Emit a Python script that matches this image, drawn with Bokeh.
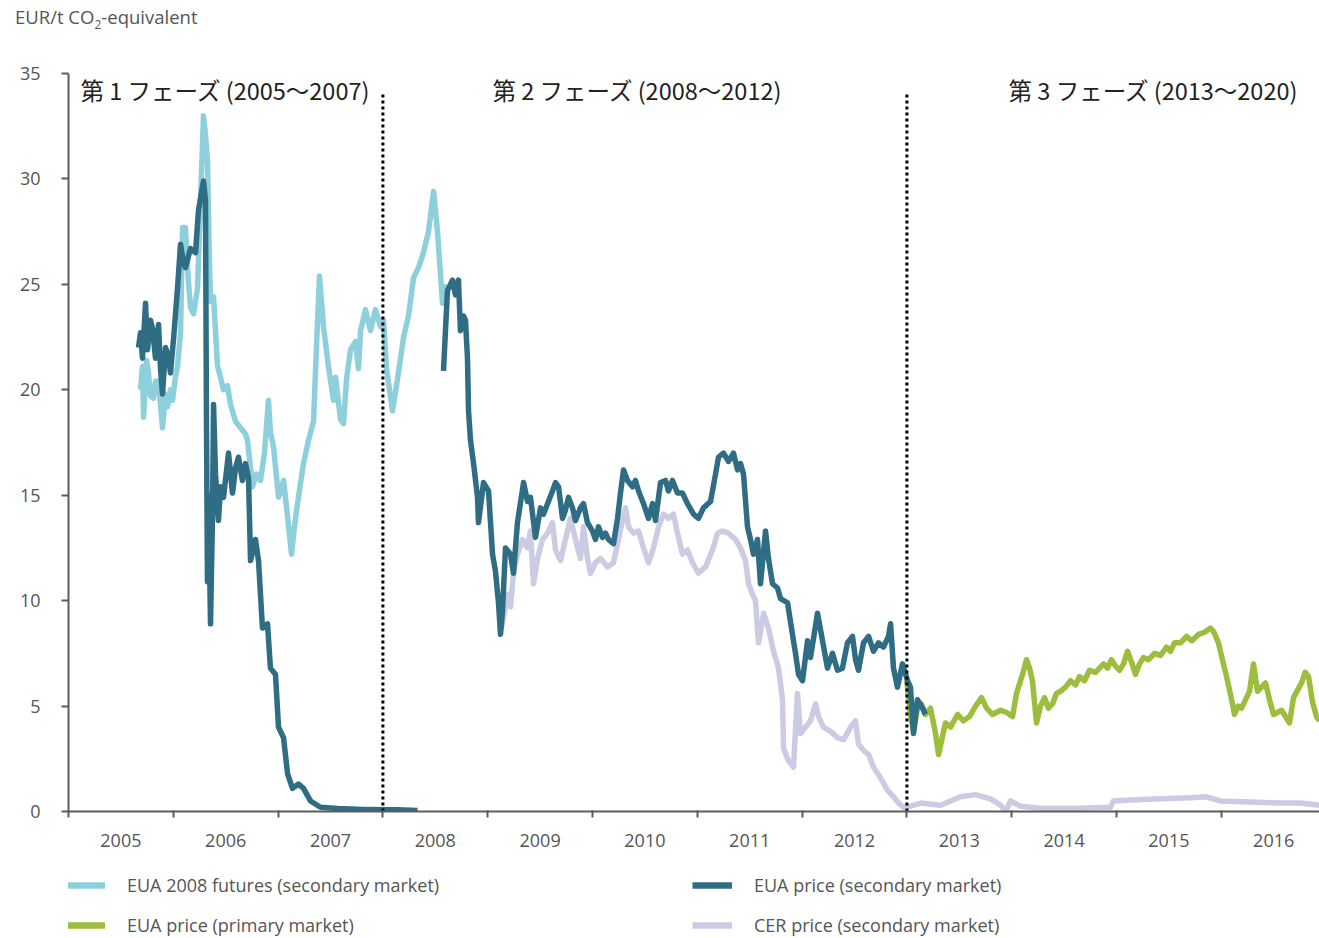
import numpy as np
from bokeh.plotting import figure
from bokeh.layouts import column
from bokeh.models import FixedTicker, Legend, LegendItem, Range1d, Div
from bokeh.core.properties import value
from bokeh.embed import file_html
from bokeh.resources import INLINE

# ---------------------------------------------------------------
# Carbon prices, EUR per tonne CO2-equivalent (decimal years)
# ---------------------------------------------------------------

# EUA 2008 futures (secondary market)
fut_years = [2005.687, 2005.706, 2005.716, 2005.744, 2005.763, 2005.782, 2005.811, 2005.830,
             2005.859, 2005.897, 2005.926, 2005.945, 2005.973, 2005.992, 2006.021, 2006.040,
             2006.069, 2006.088, 2006.116, 2006.135, 2006.164, 2006.193, 2006.231, 2006.260,
             2006.288, 2006.307, 2006.326, 2006.345, 2006.355, 2006.384, 2006.422, 2006.450,
             2006.479, 2006.517, 2006.546, 2006.594, 2006.641, 2006.689, 2006.708, 2006.756,
             2006.794, 2006.832, 2006.870, 2006.908, 2006.927, 2006.956, 2007.004, 2007.052,
             2007.090, 2007.128, 2007.156, 2007.185, 2007.242, 2007.290, 2007.338, 2007.366,
             2007.395, 2007.433, 2007.481, 2007.529, 2007.548, 2007.595, 2007.624, 2007.653,
             2007.691, 2007.739, 2007.767, 2007.786, 2007.834, 2007.882, 2007.929, 2007.977,
             2008.006, 2008.034, 2008.092, 2008.139, 2008.197, 2008.244, 2008.292, 2008.340,
             2008.387, 2008.435, 2008.483, 2008.521, 2008.569, 2008.607]
fut_vals = [20.0, 21.1, 18.7, 21.4, 20.8, 19.7, 19.6, 20.4,
            20.4, 18.2, 19.8, 19.2, 20.0, 19.5, 20.6, 21.1,
            22.7, 27.7, 27.7, 25.8, 23.9, 23.6, 24.8, 29.0,
            33.0, 32.1, 30.9, 26.0, 24.2, 24.4, 21.1, 20.6,
            20.0, 20.2, 19.3, 18.5, 18.2, 17.9, 17.6, 15.4,
            16.0, 15.7, 17.0, 19.5, 18.0, 17.3, 14.9, 15.7,
            14.0, 12.2, 13.5, 14.6, 16.5, 17.6, 18.5, 22.0,
            25.4, 23.0, 21.1, 19.5, 20.6, 18.6, 18.4, 20.5,
            21.9, 22.3, 21.0, 22.8, 23.8, 22.8, 23.8, 23.0,
            23.3, 21.0, 19.0, 20.5, 22.5, 23.5, 25.3, 25.8,
            26.5, 27.5, 29.4, 27.5, 24.1, 25.0]

# EUA price (secondary market), phase 1 spot
sec1_years = [2005.668, 2005.687, 2005.706, 2005.735, 2005.754, 2005.782, 2005.802, 2005.830,
              2005.859, 2005.878, 2005.897, 2005.926, 2005.954, 2005.973, 2006.002, 2006.040,
              2006.069, 2006.097, 2006.116, 2006.164, 2006.212, 2006.240, 2006.288, 2006.307,
              2006.317, 2006.326, 2006.336, 2006.355, 2006.374, 2006.384, 2006.403, 2006.431,
              2006.450, 2006.479, 2006.527, 2006.565, 2006.594, 2006.622, 2006.660, 2006.689,
              2006.718, 2006.737, 2006.784, 2006.813, 2006.851, 2006.899, 2006.927, 2006.975,
              2007.004, 2007.052, 2007.090, 2007.137, 2007.195, 2007.242, 2007.309, 2007.405,
              2007.567, 2007.815, 2008.139, 2008.330]
sec1_vals = [22.0, 22.7, 21.5, 24.1, 21.9, 23.3, 22.9, 21.5,
             23.1, 21.0, 19.8, 22.0, 21.6, 20.8, 22.4, 24.8,
             26.9, 26.0, 25.8, 26.7, 26.5, 28.5, 29.9, 29.0,
             18.0, 10.9, 15.0, 8.9, 14.0, 19.3, 16.0, 13.8,
             15.4, 14.9, 17.0, 15.1, 16.3, 16.8, 15.7, 16.5,
             15.8, 11.9, 12.9, 11.9, 8.7, 8.9, 6.8, 6.5,
             4.0, 3.5, 1.8, 1.1, 1.3, 1.1, 0.5, 0.2,
             0.14, 0.1, 0.08, 0.05]

# EUA price (secondary market), phases 2 and 3
sec2_years = [2008.578, 2008.616, 2008.664, 2008.693, 2008.721, 2008.740, 2008.769, 2008.788,
              2008.807, 2008.817, 2008.836, 2008.865, 2008.903, 2008.912, 2008.960, 2009.008,
              2009.046, 2009.074, 2009.103, 2009.122, 2009.141, 2009.170, 2009.218, 2009.246,
              2009.284, 2009.342, 2009.380, 2009.408, 2009.456, 2009.504, 2009.532, 2009.571,
              2009.618, 2009.647, 2009.676, 2009.714, 2009.742, 2009.771, 2009.809, 2009.838,
              2009.885, 2009.914, 2009.952, 2010.000, 2010.029, 2010.057, 2010.095, 2010.124,
              2010.153, 2010.200, 2010.239, 2010.267, 2010.296, 2010.334, 2010.382, 2010.410,
              2010.439, 2010.487, 2010.534, 2010.573, 2010.601, 2010.649, 2010.697, 2010.725,
              2010.763, 2010.811, 2010.859, 2010.906, 2010.964, 2011.011, 2011.059, 2011.126,
              2011.174, 2011.202, 2011.250, 2011.298, 2011.345, 2011.384, 2011.412, 2011.441,
              2011.479, 2011.508, 2011.536, 2011.574, 2011.603, 2011.651, 2011.679, 2011.718,
              2011.765, 2011.794, 2011.861, 2011.908, 2011.937, 2011.966, 2012.004, 2012.052,
              2012.080, 2012.147, 2012.195, 2012.242, 2012.290, 2012.338, 2012.385, 2012.433,
              2012.481, 2012.510, 2012.538, 2012.586, 2012.634, 2012.681, 2012.729, 2012.777,
              2012.824, 2012.844, 2012.872, 2012.910, 2012.958, 2013.006, 2013.034, 2013.063,
              2013.101, 2013.149, 2013.177]
sec2_vals = [20.9, 24.7, 25.2, 24.5, 25.2, 22.8, 23.5, 23.3,
             21.5, 19.0, 17.6, 16.5, 14.9, 13.7, 15.6, 15.2,
             12.2, 11.4, 9.9, 8.4, 9.5, 12.5, 12.2, 11.3,
             13.7, 15.6, 14.7, 14.9, 13.0, 14.4, 14.1, 14.6,
             15.2, 15.6, 15.4, 13.9, 14.3, 14.9, 14.4, 13.8,
             14.4, 14.6, 13.7, 13.3, 12.9, 13.5, 13.0, 13.2,
             12.9, 12.7, 13.9, 15.1, 16.2, 15.7, 15.4, 15.7,
             15.2, 14.6, 13.9, 14.6, 13.8, 15.6, 15.7, 15.2,
             15.7, 15.1, 15.1, 14.6, 14.1, 13.9, 14.4, 14.7,
             16.0, 16.8, 17.0, 16.6, 17.0, 16.2, 16.5, 16.0,
             13.5, 12.9, 12.2, 12.9, 10.8, 13.3, 12.0, 10.8,
             10.6, 10.1, 9.9, 8.4, 7.5, 6.5, 6.2, 8.1,
             7.3, 9.4, 8.1, 6.8, 7.5, 6.7, 6.8, 8.0,
             8.3, 7.2, 6.7, 8.0, 8.3, 7.6, 8.0, 7.8,
             8.3, 8.9, 6.8, 5.9, 7.0, 6.2, 5.9, 3.7,
             5.3, 4.9, 4.6]

# CER price (secondary market)
cer_years = [2009.122, 2009.141, 2009.189, 2009.218, 2009.246, 2009.284, 2009.332, 2009.380,
             2009.408, 2009.437, 2009.475, 2009.523, 2009.571, 2009.618, 2009.647, 2009.695,
             2009.742, 2009.790, 2009.838, 2009.885, 2009.914, 2009.952, 2009.981, 2010.029,
             2010.076, 2010.143, 2010.200, 2010.248, 2010.286, 2010.315, 2010.344, 2010.391,
             2010.439, 2010.487, 2010.534, 2010.582, 2010.630, 2010.677, 2010.725, 2010.773,
             2010.811, 2010.859, 2010.906, 2010.954, 2011.011, 2011.078, 2011.145, 2011.193,
             2011.240, 2011.298, 2011.365, 2011.412, 2011.460, 2011.489, 2011.527, 2011.555,
             2011.584, 2011.632, 2011.679, 2011.727, 2011.775, 2011.813, 2011.823, 2011.870,
             2011.918, 2011.956, 2011.985, 2012.033, 2012.080, 2012.128, 2012.157, 2012.204,
             2012.271, 2012.338, 2012.395, 2012.462, 2012.510, 2012.538, 2012.586, 2012.634,
             2012.681, 2012.748, 2012.815, 2012.872, 2012.920, 2012.967, 2012.996, 2013.130,
             2013.321, 2013.416, 2013.511, 2013.655, 2013.798, 2013.893, 2013.941, 2013.989,
             2014.084, 2014.275, 2014.466, 2014.656, 2014.943, 2014.971, 2015.134, 2015.420,
             2015.706, 2015.849, 2015.992, 2016.279, 2016.565, 2016.756, 2016.937]
cer_vals = [8.6, 8.9, 10.3, 9.7, 11.3, 12.2, 12.9, 12.5,
            13.3, 10.8, 12.0, 12.9, 13.2, 13.7, 12.4, 11.9,
            12.9, 13.9, 12.9, 12.0, 13.5, 12.0, 11.3, 11.8,
            12.0, 11.6, 11.8, 12.9, 13.8, 14.4, 13.5, 13.2,
            13.3, 12.5, 11.8, 12.5, 13.5, 14.1, 13.9, 14.1,
            13.2, 12.2, 12.4, 11.8, 11.3, 11.6, 12.4, 13.2,
            13.3, 13.2, 12.9, 12.5, 11.9, 10.8, 10.3, 10.0,
            8.0, 9.4, 8.7, 7.6, 6.8, 5.3, 3.0, 2.4,
            2.1, 5.6, 3.7, 4.0, 4.3, 5.1, 4.5, 4.0,
            3.8, 3.5, 3.4, 4.0, 4.3, 3.2, 2.9, 2.7,
            2.1, 1.6, 1.0, 0.7, 0.4, 0.2, 0.2, 0.4,
            0.3, 0.5, 0.7, 0.8, 0.6, 0.3, 0.0, 0.5,
            0.25, 0.15, 0.15, 0.15, 0.2, 0.5, 0.55, 0.6,
            0.65, 0.7, 0.5, 0.45, 0.4, 0.4, 0.3]

# EUA price (primary market, auctions)
prim_years = [2012.996, 2013.006, 2013.034, 2013.063, 2013.101, 2013.139, 2013.177, 2013.225,
              2013.273, 2013.302, 2013.368, 2013.416, 2013.483, 2013.540, 2013.597, 2013.655,
              2013.712, 2013.760, 2013.817, 2013.893, 2013.950, 2014.008, 2014.046, 2014.103,
              2014.141, 2014.170, 2014.198, 2014.237, 2014.275, 2014.313, 2014.351, 2014.389,
              2014.427, 2014.466, 2014.513, 2014.561, 2014.609, 2014.647, 2014.695, 2014.742,
              2014.800, 2014.876, 2014.914, 2014.952, 2014.990, 2015.029, 2015.067, 2015.105,
              2015.143, 2015.181, 2015.219, 2015.258, 2015.305, 2015.363, 2015.420, 2015.477,
              2015.515, 2015.554, 2015.611, 2015.668, 2015.720, 2015.782, 2015.840, 2015.897,
              2015.930, 2015.973, 2016.010, 2016.050, 2016.090, 2016.126, 2016.160, 2016.193,
              2016.269, 2016.307, 2016.345, 2016.422, 2016.460, 2016.498, 2016.575, 2016.651,
              2016.689, 2016.765, 2016.800, 2016.832, 2016.870, 2016.908, 2016.937]
prim_vals = [6.2, 5.9, 4.6, 3.8, 4.9, 5.1, 4.6, 4.9,
             3.7, 2.7, 4.2, 4.0, 4.6, 4.3, 4.5, 5.0,
             5.4, 4.9, 4.6, 4.8, 4.7, 4.5, 5.6, 6.5,
             7.2, 6.8, 6.2, 4.2, 5.0, 5.4, 4.9, 5.1,
             5.6, 5.7, 5.9, 6.2, 6.0, 6.4, 6.2, 6.7,
             6.6, 7.0, 6.8, 7.2, 6.9, 6.7, 7.0, 7.6,
             7.1, 6.5, 7.0, 7.3, 7.2, 7.5, 7.4, 7.8,
             7.6, 8.0, 8.0, 8.3, 8.1, 8.4, 8.5, 8.7,
             8.5, 8.0, 7.2, 6.4, 5.5, 4.6, 5.0, 4.9,
             5.7, 7.0, 5.7, 6.1, 5.3, 4.6, 4.8, 4.2,
             5.4, 6.1, 6.6, 6.4, 5.2, 4.5, 4.3]

# Axis ticks and trading-phase annotations
year_labels = list(range(2005, 2017))
y_ticks = [0, 5, 10, 15, 20, 25, 30, 35]
phase_starts = [2008, 2013]
phase_labels = ["第 1 フェーズ (2005～2007)", "第 2 フェーズ (2008～2012)", "第 3 フェーズ (2013～2020)"]
phase_label_x = [2005.115, 2009.046, 2013.97]
phase_label_y = 34.2

C_FUT = "#8dd0dc"
C_SEC = "#2f6d84"
C_PRIM = "#9cbd3e"
C_CER = "#cbcbe3"
AXIS_GREY = "#5c5c5c"
TEXT_GREY = "#555555"
FONT = "Open Sans"
LW = 5.5
KEY_LW = 6.5

# ---------------------------------------------------------------
# Unit caption above the chart
# ---------------------------------------------------------------
caption = Div(text="EUR/t CO<sub style='font-size:12px'>2</sub>-equivalent",
              width=400, height=30, margin=(6, 0, 0, 15),
              styles={"font-family": FONT, "font-size": "18.5px", "color": TEXT_GREY,
                      "line-height": "22px"})

# ---------------------------------------------------------------
# Main chart
# ---------------------------------------------------------------
p = figure(width=1319, height=822, output_backend="svg", toolbar_location=None,
           x_range=Range1d(2005.0, 2016.937), y_range=Range1d(0, 35),
           min_border_left=68, min_border_right=0, min_border_top=37, min_border_bottom=47)
p.outline_line_color = None
p.xgrid.visible = False
p.ygrid.visible = False
p.background_fill_color = "white"
p.border_fill_color = "white"

r_fut = p.line(fut_years, fut_vals, line_color=C_FUT, line_width=LW, line_join="round")
r_cer = p.line(cer_years, cer_vals, line_color=C_CER, line_width=LW, line_join="round")
r_prim = p.line(prim_years, prim_vals, line_color=C_PRIM, line_width=LW, line_join="round")
sec_x = sec1_years + [np.nan] + sec2_years
sec_y = sec1_vals + [np.nan] + sec2_vals
r_sec = p.line(sec_x, sec_y, line_color=C_SEC, line_width=LW, line_join="round")

# Phase boundaries
p.segment(x0=phase_starts, y0=[0] * len(phase_starts), x1=phase_starts,
          y1=[phase_label_y - 0.2] * len(phase_starts),
          line_color="black", line_width=3, line_dash="3 3")

p.text(x=phase_label_x, y=[phase_label_y] * 3, text=phase_labels,
       text_font=value("Noto Sans CJK JP"), text_font_size="23.5px",
       text_color="#222222", text_baseline="middle", text_align="left")

# Axes: year labels centred in each year, tick marks on year boundaries
xa = p.xaxis[0]
xa.ticker = FixedTicker(ticks=[y + 0.5 for y in year_labels], minor_ticks=year_labels)
xa.major_label_overrides = {y + 0.5: str(y) for y in year_labels}
xa.major_tick_line_color = None
xa.major_tick_out = 0
xa.major_tick_in = 0
xa.minor_tick_out = 6
xa.minor_tick_in = 1
xa.minor_tick_line_color = AXIS_GREY
xa.minor_tick_line_width = 2
xa.axis_line_color = AXIS_GREY
xa.axis_line_width = 2
xa.major_label_standoff = 16
xa.major_label_text_font = FONT
xa.major_label_text_font_size = "18px"
xa.major_label_text_color = TEXT_GREY

ya = p.yaxis[0]
ya.ticker = FixedTicker(ticks=y_ticks)
ya.minor_tick_line_color = None
ya.major_tick_out = 7
ya.major_tick_in = 0
ya.major_tick_line_color = AXIS_GREY
ya.major_tick_line_width = 2
ya.axis_line_color = AXIS_GREY
ya.axis_line_width = 2
ya.major_label_standoff = 21
ya.major_label_text_font = FONT
ya.major_label_text_font_size = "18px"
ya.major_label_text_color = TEXT_GREY

# ---------------------------------------------------------------
# Legend strip below the chart
# ---------------------------------------------------------------
leg = figure(width=1319, height=80, output_backend="svg", toolbar_location=None,
             x_range=Range1d(0, 1), y_range=Range1d(0, 1),
             x_axis_type=None, y_axis_type=None,
             min_border_left=68, min_border_right=0, min_border_top=0, min_border_bottom=0)
leg.outline_line_color = None
leg.xgrid.visible = False
leg.ygrid.visible = False
leg.background_fill_color = "white"
leg.border_fill_color = "white"

# Legend keys (no visible data, only their line styles are used)
key_fut = leg.line([np.nan], [np.nan], line_color=C_FUT, line_width=KEY_LW)
key_prim = leg.line([np.nan], [np.nan], line_color=C_PRIM, line_width=KEY_LW)
key_sec = leg.line([np.nan], [np.nan], line_color=C_SEC, line_width=KEY_LW)
key_cer = leg.line([np.nan], [np.nan], line_color=C_CER, line_width=KEY_LW)

legend = Legend(items=[
    LegendItem(label="EUA 2008 futures (secondary market)", renderers=[key_fut]),
    LegendItem(label="EUA price (primary market)", renderers=[key_prim]),
    LegendItem(label="EUA price (secondary market)", renderers=[key_sec]),
    LegendItem(label="CER price (secondary market)", renderers=[key_cer]),
], ncols=2, orientation="vertical", location=(-3, 1),
    glyph_width=40, glyph_height=24, label_height=24, label_width=549,
    label_standoff=22, spacing=16, padding=0, margin=0,
    border_line_color=None, background_fill_alpha=0,
    label_text_font=FONT, label_text_font_size="18px", label_text_color=TEXT_GREY)
leg.add_layout(legend)

page = column(caption, p, leg, spacing=0)
open("out.html", "w").write(file_html(page, INLINE))
